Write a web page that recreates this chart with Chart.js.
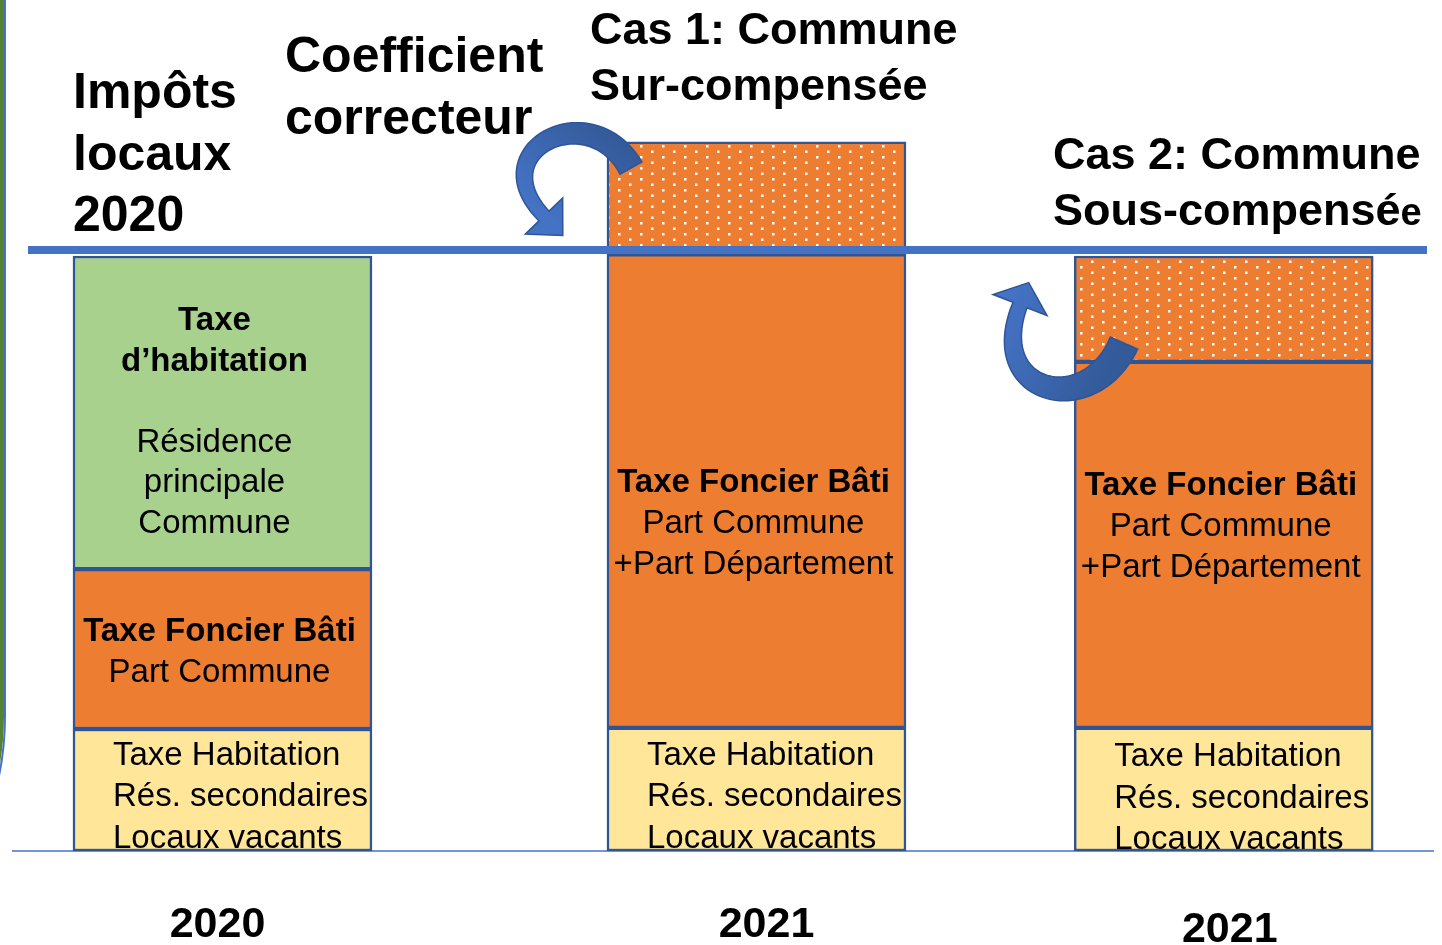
<!DOCTYPE html>
<html lang="fr">
<head>
<meta charset="utf-8">
<title>Impôts locaux 2020 - 2021</title>
<script src="https://cdn.jsdelivr.net/npm/chart.js@4.4.1/dist/chart.umd.min.js"></script>
<style>
  html, body { margin: 0; padding: 0; background: #fff; }
  #chart { display: block; }
</style>
</head>
<body>
<canvas id="chart" width="1442" height="945"></canvas>
<script>
// bars : 2020, cas 1 (2021), cas 2 (2021)
const years = ["2020", "2021", "2021"];
const slots = [0, 8, 15];

// heights in % of the 2020 total (thick blue line = 100)
const thSecondaires = [20.3, 20.5, 20.5];
const foncierBati = [26.6, 78.8, 60.9];
const thPrincipale = [52.1, null, null];
const correcteur = [null, 18.7, 17.6];
const referenceLevel = 100;

// texts written inside the segments (bold lines start with "*")
const thSecondairesText = [
  ["Taxe Habitation", "Rés. secondaires", "Locaux vacants"],
  ["Taxe Habitation", "Rés. secondaires", "Locaux vacants"],
  ["Taxe Habitation", "Rés. secondaires", "Locaux vacants"]
];
const foncierText = [
  ["*Taxe Foncier Bâti", "Part Commune"],
  ["*Taxe Foncier Bâti", "Part Commune", "+Part Département"],
  ["*Taxe Foncier Bâti", "Part Commune", "+Part Département"]
];
const principaleText = [
  ["*Taxe", "*d’habitation", "", "Résidence", "principale", "Commune"],
  null,
  null
];

// level (same units as the values) where each text block is centred
const thSecondairesTextAt = [9.0, 9.0, 8.7];
const foncierTextAt = [33.1, 54.4, 54.0];
const principaleTextAt = [71.3, null, null];

// small horizontal nudges of the year labels (px)
const yearShift = [-5, 10, 6];

const FONT = '"Liberation Sans", Arial, Helvetica, sans-serif';
const BLUE = "#4472C4";
const DARK_BLUE = "#2F5597";
const ORANGE = "#ED7D31";

function dottedPattern() {
  const tile = document.createElement("canvas");
  tile.width = 22;
  tile.height = 11;
  const c = tile.getContext("2d");
  c.fillStyle = ORANGE;
  c.fillRect(0, 0, 22, 11);
  c.fillStyle = "#ffffff";
  c.fillRect(2, 2, 2.5, 2.5);
  c.fillRect(13, 7.5, 2.5, 2.5);
  return document.getElementById("chart").getContext("2d").createPattern(tile, "repeat");
}

function toPoints(values) {
  return values.map((v, i) => ({ x: slots[i], y: v }));
}

function drawBlock(ctx, lines, x, yCenter, lineHeight, size, align) {
  const top = yCenter - (lines.length - 1) * lineHeight / 2;
  ctx.textAlign = align;
  ctx.textBaseline = "middle";
  ctx.fillStyle = "#000";
  lines.forEach((line, k) => {
    const bold = line.startsWith("*");
    ctx.font = (bold ? "bold " : "") + size + "px " + FONT;
    ctx.fillText(bold ? line.slice(1) : line, x, top + k * lineHeight);
  });
}

function curvedArrow(ctx, p0, p1, p2, p3, w0, w1, headW, headL, gradFrom, gradTo) {
  const n = 48;
  const left = [];
  const right = [];

  for (let k = 0; k <= n; k++) {
    const t = k / n;
    const u = 1 - t;
    const x = u*u*u*p0[0] + 3*u*u*t*p1[0] + 3*u*t*t*p2[0] + t*t*t*p3[0];
    const y = u*u*u*p0[1] + 3*u*u*t*p1[1] + 3*u*t*t*p2[1] + t*t*t*p3[1];
    const dx = 3*u*u*(p1[0]-p0[0]) + 6*u*t*(p2[0]-p1[0]) + 3*t*t*(p3[0]-p2[0]);
    const dy = 3*u*u*(p1[1]-p0[1]) + 6*u*t*(p2[1]-p1[1]) + 3*t*t*(p3[1]-p2[1]);
    const len = Math.hypot(dx, dy);
    const w = (w0 + (w1 - w0) * t) / 2;
    left.push([x - dy / len * w, y + dx / len * w]);
    right.push([x + dy / len * w, y - dx / len * w]);
  }

  const ex = p3[0] - p2[0];
  const ey = p3[1] - p2[1];
  const el = Math.hypot(ex, ey);
  const ux = ex / el;
  const uy = ey / el;

  ctx.beginPath();
  ctx.moveTo(left[0][0], left[0][1]);
  left.forEach(p => ctx.lineTo(p[0], p[1]));
  ctx.lineTo(p3[0] - uy * headW / 2, p3[1] + ux * headW / 2);
  ctx.lineTo(p3[0] + ux * headL, p3[1] + uy * headL);
  ctx.lineTo(p3[0] + uy * headW / 2, p3[1] - ux * headW / 2);
  right.slice().reverse().forEach(p => ctx.lineTo(p[0], p[1]));
  ctx.closePath();

  const grad = ctx.createLinearGradient(gradFrom[0], gradFrom[1], gradTo[0], gradTo[1]);
  grad.addColorStop(0, "#335A99");
  grad.addColorStop(1, BLUE);
  ctx.fillStyle = grad;
  ctx.fill();
  ctx.lineWidth = 1.5;
  ctx.strokeStyle = DARK_BLUE;
  ctx.stroke();
}

const slideDecor = {
  id: "slideDecor",

  beforeDatasetsDraw(chart) {
    const ctx = chart.ctx;
    const y0 = chart.scales.y.getPixelForValue(0);

    ctx.save();

    // slide frame on the left
    ctx.lineWidth = 4;
    ctx.strokeStyle = "#548235";
    ctx.beginPath();
    ctx.moveTo(2, 0);
    ctx.lineTo(2, 715);
    ctx.quadraticCurveTo(2, 755, -8, 790);
    ctx.stroke();
    ctx.lineWidth = 2;
    ctx.strokeStyle = BLUE;
    ctx.beginPath();
    ctx.moveTo(5, 0);
    ctx.lineTo(5, 715);
    ctx.quadraticCurveTo(5, 757, -5, 792);
    ctx.stroke();

    // base line
    ctx.lineWidth = 1.5;
    ctx.strokeStyle = BLUE;
    ctx.beginPath();
    ctx.moveTo(12, y0);
    ctx.lineTo(1434, y0);
    ctx.stroke();

    ctx.restore();
  },

  afterDatasetsDraw(chart) {
    const ctx = chart.ctx;
    const yScale = chart.scales.y;
    const xScale = chart.scales.x;

    ctx.save();

    // reference level (total 2020)
    const yRef = yScale.getPixelForValue(referenceLevel);
    ctx.lineWidth = 8;
    ctx.strokeStyle = BLUE;
    ctx.beginPath();
    ctx.moveTo(28, yRef);
    ctx.lineTo(1427, yRef);
    ctx.stroke();

    // texts inside the segments
    const bars = chart.getDatasetMeta(0).data;
    bars.forEach((bar, i) => {
      const left = bar.x - bar.width / 2;
      drawBlock(ctx, thSecondairesText[i], left + 40,
        yScale.getPixelForValue(thSecondairesTextAt[i]), 41.5, 33, "left");
      drawBlock(ctx, foncierText[i], bar.x - 3,
        yScale.getPixelForValue(foncierTextAt[i]), 41, 33, "center");
      if (principaleText[i]) {
        drawBlock(ctx, principaleText[i], bar.x - 8,
          yScale.getPixelForValue(principaleTextAt[i]), 40.5, 33, "center");
      }
    });

    // correcting coefficient arrows
    curvedArrow(ctx, [631, 168], [590, 95], [480, 150], [544, 216],
      25, 14, 52, 27, [600, 120], [530, 200]);
    curvedArrow(ctx, [1124, 343], [1090, 420], [985, 395], [1020, 305],
      30, 15, 58, 24, [1110, 370], [1000, 320]);

    // titles
    ctx.fillStyle = "#000";
    ctx.textAlign = "left";
    ctx.textBaseline = "alphabetic";
    ctx.font = "bold 50px " + FONT;
    ctx.fillText("Impôts", 73, 108);
    ctx.fillText("locaux", 73, 170);
    ctx.fillText("2020", 73, 231);
    ctx.fillText("Coefficient", 285, 72);
    ctx.fillText("correcteur", 285, 134);

    ctx.font = "bold 45px " + FONT;
    ctx.fillText("Cas 1: Commune", 590, 44);
    ctx.fillText("Sur-compensée", 590, 100);
    ctx.fillText("Cas 2: Commune", 1053, 169);
    ctx.fillText("Sous-compensé", 1053, 225);
    const w = ctx.measureText("Sous-compensé").width;
    ctx.font = "bold 38px " + FONT;
    ctx.fillText("e", 1053 + w, 225);

    // year labels under the bars
    ctx.font = "bold 43px " + FONT;
    ctx.textAlign = "center";
    years.forEach((year, i) => {
      ctx.fillText(year, xScale.getPixelForValue(slots[i]) + yearShift[i], i === 2 ? 942 : 937);
    });

    ctx.restore();
  }
};

const dots = dottedPattern();

const segmentStyle = {
  borderColor: DARK_BLUE,
  borderWidth: 2.5,
  borderSkipped: false,
  barThickness: 299
};

new Chart(document.getElementById("chart"), {
  type: "bar",
  data: {
    datasets: [
      { label: "TH résidences secondaires", data: toPoints(thSecondaires), backgroundColor: "#FFE699", ...segmentStyle },
      { label: "Taxe foncier bâti", data: toPoints(foncierBati), backgroundColor: ORANGE, ...segmentStyle },
      { label: "TH résidence principale", data: toPoints(thPrincipale), backgroundColor: "#A9D18E", ...segmentStyle },
      { label: "Coefficient correcteur", data: toPoints(correcteur), backgroundColor: dots, ...segmentStyle }
    ]
  },
  options: {
    responsive: false,
    animation: false,
    layout: { padding: 0 },
    plugins: {
      legend: { display: false },
      tooltip: { enabled: false }
    },
    scales: {
      x: {
        type: "linear",
        display: false,
        stacked: true,
        offset: false,
        min: -3.333,
        max: 18.27
      },
      y: {
        display: false,
        stacked: true,
        min: -15.64,
        max: 141.6
      }
    }
  },
  plugins: [slideDecor]
});
</script>
</body>
</html>
